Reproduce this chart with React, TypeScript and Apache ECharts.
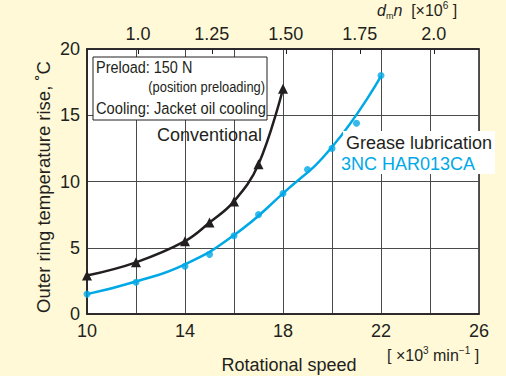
import React, { useEffect, useRef } from "react";
import * as echarts from "echarts";

// Rotational speed [×10^3 min^-1]
const SPEED_MIN = 10;
const SPEED_MAX = 26;
const SPEED_LABELED = [10, 14, 18, 22, 26];

// Conventional bearing (triangles)
const CONV_SPEED = [10, 12, 14, 15, 16, 17, 18];
const CONV_RISE = [2.9, 3.9, 5.5, 6.9, 8.5, 11.3, 17.0];

// Grease lubrication 3NC HAR013CA (measured dots)
const GREASE_SPEED = [10, 12, 14, 15, 16, 17, 18, 19, 20, 21, 22];
const GREASE_RISE = [1.5, 2.4, 3.6, 4.5, 5.9, 7.5, 9.1, 10.9, 12.5, 14.4, 18.0];

// Grease lubrication fitted curve
const GREASE_CURVE_SPEED = [10, 12, 14, 16, 18, 20, 22];
const GREASE_CURVE_RISE = [1.5, 2.45, 3.75, 5.95, 9.1, 12.6, 17.95];

// Top axis dmn [×10^6]
const DMN_PER_SPEED = 0.0828;
const DMN_TICKS = [1.0, 1.25, 1.5, 1.75, 2.0];
const DMN_LABELS = ["1.0", "1.25", "1.50", "1.75", "2.0"];

// Y axis
const RISE_MIN = 0;
const RISE_MAX = 20;
const RISE_STEP = 5;

const FONT = "'Liberation Sans', Arial, Helvetica, sans-serif";
const INK = "#231f20";
const CYAN = "#00a9e6";
const BG = "#fff9d7";
const GRIDC = "#4a4a4a";

const zip = (xs: number[], ys: number[]) => xs.map((x, i) => [x, ys[i]]);

export default function App() {
  const ref = useRef<HTMLDivElement>(null);
  useEffect(() => {
    if (!ref.current) return;
    const chart = echarts.init(ref.current, null, { renderer: "svg" });
    const option: any = {
      animation: false,
      backgroundColor: BG,
      grid: {
        left: 87,
        right: 27,
        top: 49,
        bottom: 62,
        show: true,
        backgroundColor: "#ffffff",
        borderColor: INK,
        borderWidth: 1.5,
      },
      xAxis: [
        {
          type: "value",
          min: SPEED_MIN,
          max: SPEED_MAX,
          interval: 2,
          position: "bottom",
          axisLine: { show: true, lineStyle: { color: INK, width: 1.5 } },
          axisTick: { show: false },
          splitLine: { show: true, lineStyle: { color: GRIDC, width: 1 } },
          axisLabel: {
            margin: 8,
            fontSize: 18,
            fontFamily: FONT,
            color: INK,
            formatter: (v: number) =>
              SPEED_LABELED.some((t) => Math.abs(t - v) < 1e-6) ? String(v) : "",
          },
        },
        {
          type: "value",
          min: SPEED_MIN * DMN_PER_SPEED,
          max: SPEED_MAX * DMN_PER_SPEED,
          position: "top",
          axisLine: { show: true, lineStyle: { color: INK, width: 1.5 } },
          axisTick: {
            show: true,
            inside: true,
            length: 5,
            customValues: DMN_TICKS,
            lineStyle: { color: INK, width: 1 },
          },
          splitLine: { show: false },
          axisLabel: {
            margin: 6,
            fontSize: 18,
            fontFamily: FONT,
            color: INK,
            customValues: DMN_TICKS,
            formatter: (v: number) => {
              const i = DMN_TICKS.findIndex((t) => Math.abs(t - v) < 1e-6);
              return i >= 0 ? DMN_LABELS[i] : "";
            },
          },
        },
      ],
      yAxis: {
        type: "value",
        min: RISE_MIN,
        max: RISE_MAX,
        interval: RISE_STEP,
        axisLine: { show: true, lineStyle: { color: INK, width: 1.5 } },
        axisTick: { show: false },
        splitLine: { show: true, lineStyle: { color: GRIDC, width: 1 } },
        axisLabel: {
          margin: 7,
          fontSize: 18,
          fontFamily: FONT,
          color: INK,
        },
      },
      series: [
        {
          type: "line",
          name: "Conventional",
          xAxisIndex: 0,
          data: zip(CONV_SPEED, CONV_RISE),
          smooth: 0.4,
          symbol: "triangle",
          symbolSize: 10,
          lineStyle: { color: INK, width: 2.5 },
          itemStyle: { color: INK },
          z: 5,
        },
        {
          type: "line",
          name: "Grease curve",
          xAxisIndex: 0,
          data: zip(GREASE_CURVE_SPEED, GREASE_CURVE_RISE),
          smooth: 0.5,
          symbol: "none",
          lineStyle: { color: CYAN, width: 2.5 },
          z: 4,
        },
        {
          type: "scatter",
          name: "3NC HAR013CA",
          xAxisIndex: 0,
          data: zip(GREASE_SPEED, GREASE_RISE),
          symbol: "circle",
          symbolSize: 7,
          itemStyle: { color: CYAN },
          z: 6,
        },
      ],
      graphic: [
        // legend box
        {
          type: "rect",
          z: 100,
          shape: { x: 93, y: 57, width: 174, height: 63 },
          style: { fill: "#ffffff", stroke: INK, lineWidth: 1 },
        },
        {
          type: "text",
          z: 101,
          x: 96,
          y: 67,
          scaleX: 0.85,
          style: {
            text: "Preload: 150 N",
            fontSize: 17,
            fontFamily: FONT,
            fill: INK,
            textAlign: "left",
            textVerticalAlign: "middle",
          },
        },
        {
          type: "text",
          z: 101,
          x: 265,
          y: 87,
          scaleX: 0.86,
          style: {
            text: "(position preloading)",
            fontSize: 15,
            fontFamily: FONT,
            fill: INK,
            textAlign: "right",
            textVerticalAlign: "middle",
          },
        },
        {
          type: "text",
          z: 101,
          x: 96,
          y: 108,
          scaleX: 0.865,
          style: {
            text: "Cooling: Jacket oil cooling",
            fontSize: 17,
            fontFamily: FONT,
            fill: INK,
            textAlign: "left",
            textVerticalAlign: "middle",
          },
        },
        {
          type: "text",
          z: 101,
          x: 157,
          y: 135,
          style: {
            text: "Conventional",
            fontSize: 18,
            fontFamily: FONT,
            fill: INK,
            textAlign: "left",
            textVerticalAlign: "middle",
          },
        },
        // grease label box
        {
          type: "rect",
          z: 100,
          shape: { x: 343, y: 131, width: 152, height: 43 },
          style: { fill: "#ffffff", lineWidth: 0 },
        },
        {
          type: "text",
          z: 101,
          x: 346,
          y: 143,
          style: {
            text: "Grease lubrication",
            fontSize: 18,
            fontFamily: FONT,
            fill: INK,
            textAlign: "left",
            textVerticalAlign: "middle",
          },
        },
        {
          type: "text",
          z: 101,
          x: 341,
          y: 164,
          style: {
            text: "3NC HAR013CA",
            fontSize: 18,
            fontFamily: FONT,
            fill: CYAN,
            textAlign: "left",
            textVerticalAlign: "middle",
          },
        },
        // y axis title
        {
          type: "text",
          z: 101,
          x: 43,
          y: 187,
          rotation: Math.PI / 2,
          style: {
            text: "Outer ring temperature rise, ˚C",
            fontSize: 18.5,
            fontFamily: FONT,
            fill: INK,
            textAlign: "center",
            textVerticalAlign: "middle",
          },
        },
        // x axis title
        {
          type: "text",
          z: 101,
          x: 289,
          y: 365,
          style: {
            text: "Rotational speed",
            fontSize: 18,
            fontFamily: FONT,
            fill: INK,
            textAlign: "center",
            textVerticalAlign: "middle",
          },
        },
        // bottom unit
        {
          type: "text",
          z: 101,
          x: 387,
          y: 355,
          style: {
            text: "{n|[ ×10}{sup|3}{n| min}{sup|−1}{n| ]}",
            fontFamily: FONT,
            fill: INK,
            textAlign: "left",
            textVerticalAlign: "middle",
            rich: {
              n: { fontSize: 16, fontFamily: FONT, fill: INK, lineHeight: 20 },
              sup: { fontSize: 10, fontFamily: FONT, fill: INK, verticalAlign: "top", lineHeight: 20 },
            },
          },
        },
        // top unit
        {
          type: "text",
          z: 101,
          x: 377,
          y: 10,
          style: {
            text: "{i|d}{sub|m}{i|n}{n|  [×10}{sup|6}{n| ]}",
            fontFamily: FONT,
            fill: INK,
            textAlign: "left",
            textVerticalAlign: "middle",
            rich: {
              i: { fontSize: 16, fontStyle: "italic", fontFamily: FONT, fill: INK, lineHeight: 20 },
              sub: { fontSize: 9, fontFamily: FONT, fill: INK, verticalAlign: "bottom", lineHeight: 20 },
              n: { fontSize: 16, fontFamily: FONT, fill: INK, lineHeight: 20 },
              sup: { fontSize: 10, fontFamily: FONT, fill: INK, verticalAlign: "top", lineHeight: 20 },
            },
          },
        },
      ],
    };
    chart.setOption(option);
    return () => chart.dispose();
  }, []);
  return (
    <div
      ref={ref}
      style={{ position: "fixed", left: 0, top: 0, width: 506, height: 376 }}
    />
  );
}
